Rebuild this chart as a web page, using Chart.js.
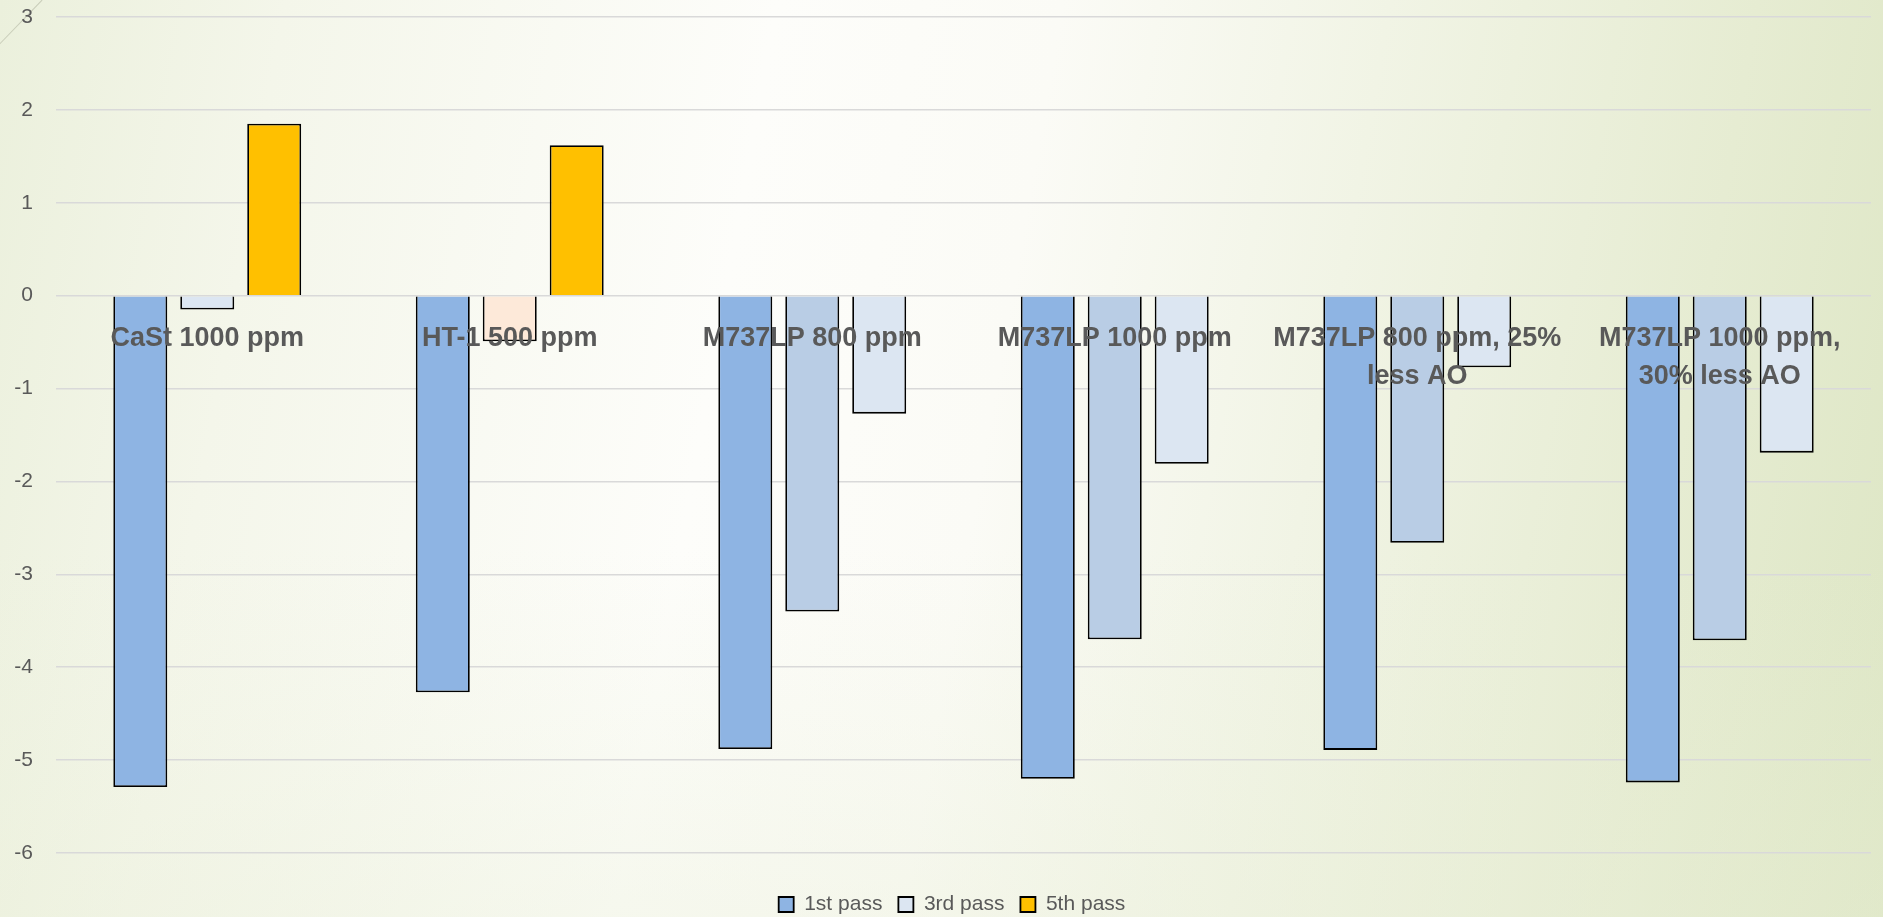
<!DOCTYPE html>
<html>
<head>
<meta charset="utf-8">
<script src="https://cdn.jsdelivr.net/npm/chart.js@4.4.1/dist/chart.umd.min.js"></script>
<style>
  html, body { margin: 0; padding: 0; }
  body {
    width: 1883px; height: 917px; overflow: hidden; position: relative;
    background:
      linear-gradient(180deg, rgba(255,255,255,0) 60%, rgba(232,238,214,0.35) 100%),
      linear-gradient(100deg, #ebf0dc 0%, #f4f6ea 14%, #fdfdfa 38%, #fbfbf6 52%, #f1f4e5 68%, #e6ecd2 86%, #dde6c4 100%);
  }
  #wrap { position: absolute; left: 0; top: 0; width: 1883px; height: 917px; }
  .deco { position: absolute; left: -2px; top: 45px; width: 63px; height: 1px; background: #c9cdb9; transform-origin: 0 0; transform: rotate(-46deg); }
</style>
</head>
<body>
<div class="deco"></div>
<div id="wrap"><canvas id="passChart"></canvas></div>
<script>
const categories = [
  "CaSt 1000 ppm",
  "HT-1 500 ppm",
  "M737LP 800 ppm",
  "M737LP 1000 ppm",
  ["M737LP 800 ppm, 25%", "less AO"],
  ["M737LP 1000 ppm,", "30% less AO"]
];
const firstPass = [-5.29, -4.27, -4.88, -5.20, -4.89, -5.24];
const thirdPass = [-0.15, -0.49, -3.40, -3.70, -2.66, -3.71];
const fifthPass = [1.85, 1.62, -1.27, -1.81, -0.77, -1.69];
const yTicks = [3, 2, 1, 0, -1, -2, -3, -4, -5, -6];

// colours per bar, as drawn in the original
const firstColors = ["#8eb4e3", "#8eb4e3", "#8eb4e3", "#8eb4e3", "#8eb4e3", "#8eb4e3"];
const thirdColors = ["#dce6f2", "#fde9d9", "#b9cde5", "#b9cde5", "#b9cde5", "#b9cde5"];
const fifthColors = ["#ffc000", "#ffc000", "#dce6f2", "#dce6f2", "#dce6f2", "#dce6f2"];

const grey = "#595959";

const barStyle = {
  borderColor: "#000000",
  borderWidth: 1.8,
  categoryPercentage: 0.664,
  barPercentage: 0.806
};

const data = {
  labels: categories,
  datasets: [
    { label: "1st pass", data: firstPass, backgroundColor: firstColors, ...barStyle },
    { label: "3rd pass", data: thirdPass, backgroundColor: thirdColors, ...barStyle },
    { label: "5th pass", data: fifthPass, backgroundColor: fifthColors, ...barStyle }
  ]
};

const config = {
  type: "bar",
  data: data,
  options: {
    responsive: true,
    maintainAspectRatio: false,
    animation: false,
    // negative right padding + empty right axis keeps the legend centred like the original
    layout: { padding: { top: 17, right: -21, left: 0, bottom: -8 } },
    scales: {
      x: {
        position: { y: 0 },
        grid: { display: false },
        border: { display: false },
        ticks: {
          z: 1,
          color: grey,
          autoSkip: false,
          maxRotation: 0,
          padding: 16,
          font: { family: "'Liberation Sans', Arial, sans-serif", size: 27, weight: "bold", lineHeight: 1.4 }
        }
      },
      gap: {
        type: "category",
        position: "bottom",
        grid: { display: false },
        border: { display: false },
        ticks: { display: false },
        afterFit: (s) => { s.height = 25; }
      },
      y: {
        min: -6,
        max: 3,
        afterFit: (s) => { s.width = 56; },
        afterBuildTicks: (s) => { s.ticks = yTicks.map((v) => ({ value: v })); },
        grid: { color: "#d9d9d9", lineWidth: 1.5, drawTicks: true, tickLength: 23, tickColor: "rgba(0,0,0,0)" },
        border: { display: false },
        ticks: {
          color: grey,
          padding: 0,
          font: { family: "'Liberation Sans', Arial, sans-serif", size: 21 }
        }
      },
      rightGap: {
        type: "linear",
        position: "right",
        grid: { display: false },
        border: { display: false },
        ticks: { display: false },
        afterFit: (s) => { s.width = 33; }
      }
    },
    plugins: {
      legend: {
        position: "bottom",
        labels: {
          color: grey,
          boxWidth: 15,
          boxHeight: 15,
          padding: 16,
          font: { family: "'Liberation Sans', Arial, sans-serif", size: 21, lineHeight: 1 }
        }
      },
      tooltip: { enabled: true }
    }
  }
};

const ctx = document.getElementById("passChart").getContext("2d");
new Chart(ctx, config);
</script>
</body>
</html>
